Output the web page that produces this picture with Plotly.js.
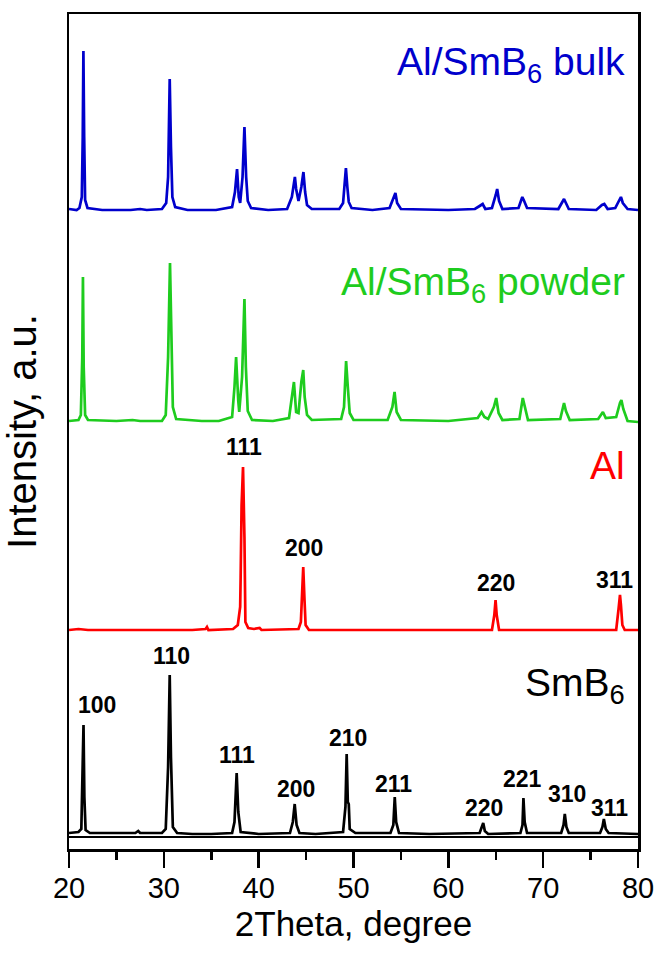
<!DOCTYPE html>
<html>
<head>
<meta charset="utf-8">
<script src="https://cdn.plot.ly/plotly-3.0.1.min.js"></script>
<style>html,body{margin:0;padding:0;background:#fff;}#chart{width:658px;height:966px;}</style>
</head>
<body>
<div id="chart"></div>
<script>
// 2Theta (degree) and intensity (a.u., offset stacked)
const bulkX = [20.0,20.8,21.1,21.35,21.45,21.52,21.6,21.7,21.95,23.5,25.0,26.5,27.5,28.2,29.8,30.25,30.45,30.62,30.75,30.9,31.2,32.5,34.0,35.5,37.2,37.5,37.72,37.9,38.05,38.3,38.5,38.68,38.85,39.2,41.0,43.0,43.5,43.82,43.95,44.2,44.5,44.72,44.9,45.1,45.6,48.5,48.9,49.2,49.35,49.5,49.8,52.0,53.8,54.25,54.42,54.6,55.0,60.0,62.8,63.3,63.62,63.9,64.6,65.0,65.15,65.35,65.7,67.4,67.8,67.95,68.3,71.6,72.2,72.35,72.7,75.6,76.2,76.45,76.8,77.6,78.05,78.2,78.4,78.9,80.0];
const bulkY = [628,627,629,640,700,786,700,637,629,627,627,627,628,627,628,634,660,758,690,640,630,627,627,627,630,645,668,640,634,660,710,660,636,629,627,628,640,660,648,636,650,665,645,632,628,628,634,669,650,635,629,627,629,640,644,634,628,627,628,631,633,628,629,642,648,636,628,629,640,637,629,628,638,635,628,627,632,633,628,629,638,640,634,628,627];

const powderX = [20.0,21.0,21.25,21.4,21.47,21.55,21.7,22.0,25.0,26.7,27.5,29.8,30.2,30.45,30.65,30.8,30.95,31.3,34.0,35.8,37.2,37.45,37.62,37.85,37.95,38.25,38.5,38.65,38.85,39.3,41.5,43.2,43.5,43.72,43.95,44.2,44.5,44.7,44.85,45.1,45.6,48.7,49.0,49.22,49.4,49.6,50.0,53.6,54.1,54.33,54.55,55.0,60.0,63.1,63.5,63.8,64.2,64.8,65.05,65.3,65.7,67.5,67.85,68.05,68.4,71.8,72.2,72.4,72.8,75.8,76.3,76.6,77.7,78.1,78.25,78.45,78.9,80.0];
const powderY = [416,417,422,480,560,470,422,417,416,417,416,416,422,480,574,500,430,418,416,416,420,450,480,436,425,460,538,470,426,417,416,419,440,455,425,424,455,467,440,422,417,418,430,476,450,424,417,417,430,445,425,417,416,419,425,420,418,430,439,424,417,418,439,430,417,418,434,426,417,418,425,419,420,434,437,428,416,415];

const alX = [20.0,21.0,22.0,25.0,30.0,33.0,34.4,34.55,34.7,37.3,37.8,38.05,38.1,38.2,38.35,38.5,38.6,38.9,39.5,40.1,40.3,44.2,44.45,44.6,44.7,44.82,44.95,45.3,50.0,55.0,60.0,64.6,64.85,64.98,65.1,65.35,70.0,75.0,77.7,77.95,78.1,78.2,78.35,78.6,80.0];
const alY = [207,208,207,207,207,207,208,210,207,208,212,230,260,332,370,300,215,209,208,209,207,208,215,250,270,240,212,207,207,207,207,207,222,237,222,207,207,207,207,228,242,232,212,207,207];

const smbX = [20.0,21.0,21.3,21.45,21.53,21.62,21.75,22.2,24.0,27.0,27.3,27.5,29.8,30.2,30.45,30.62,30.75,30.95,31.4,33.0,35.0,37.2,37.45,37.68,37.85,38.1,40.0,43.3,43.6,43.8,44.0,44.3,46.0,48.9,49.15,49.28,49.4,49.5,49.6,50.2,53.9,54.2,54.35,54.5,54.8,58.0,63.3,63.55,63.68,63.85,64.2,67.6,67.82,67.92,68.05,68.3,71.9,72.15,72.28,72.45,72.7,76.0,76.25,76.4,76.6,76.9,80.0];
const smbY = [4,5,8,60,112,40,7,4,4,4,6,4,4,8,70,162,80,10,4,3,3,4,15,64,25,5,3,4,15,33,12,4,3,5,30,83,35,33,8,4,4,12,40,15,4,3,4,10,14,6,3,4,12,39,15,4,4,12,23,10,4,4,10,18,8,4,3];

// Miller index labels
const smbHKL = ["100","110","111","200","210","211","220","221","310","311"];
const smbHKLx = [22.93,30.79,37.75,43.9,49.39,54.25,63.75,67.83,72.47,77.04];
const smbHKLy = [132,181,82,48,99,53,29,58,43,29];
const alHKL = ["111","200","220","311"];
const alHKLx = [38.42,44.75,65.02,77.57];
const alHKLy = [390,289,254,257];

const seriesNames = ["Al/SmB<sub>6</sub> bulk","Al/SmB<sub>6</sub> powder","Al","SmB<sub>6</sub>"];
const seriesColors = ["#0000CC","#1ECC1E","#FF0000","#000000"];
const seriesLabelY = [773,553,372,152];

const FONT = "Liberation Sans, Arial, Helvetica, sans-serif";

const xs = [bulkX, powderX, alX, smbX];
const ys = [bulkY, powderY, alY, smbY];
const traces = xs.map((x, i) => ({
  x: x, y: ys[i], type: 'scatter', mode: 'lines',
  line: {color: seriesColors[i], width: 2.7},
  hoverinfo: 'skip', showlegend: false
}));

const annotations = [];
seriesNames.forEach((t, i) => annotations.push({
  x: 78.85, y: seriesLabelY[i], xref: 'x', yref: 'y', text: t,
  showarrow: false, xanchor: 'right', yanchor: 'middle',
  font: {family: FONT, size: 39, color: seriesColors[i]}
}));
smbHKL.forEach((t, i) => annotations.push({
  x: smbHKLx[i], y: smbHKLy[i], xref: 'x', yref: 'y', text: '<b>' + t + '</b>',
  showarrow: false, xanchor: 'center', yanchor: 'middle',
  font: {family: FONT, size: 23, color: '#000'}
}));
alHKL.forEach((t, i) => annotations.push({
  x: alHKLx[i], y: alHKLy[i], xref: 'x', yref: 'y', text: '<b>' + t + '</b>',
  showarrow: false, xanchor: 'center', yanchor: 'middle',
  font: {family: FONT, size: 23, color: '#000'}
}));

const layout = {
  width: 658, height: 966,
  margin: {l: 69, r: 20, t: 14, b: 117, pad: 0},
  paper_bgcolor: '#fff', plot_bgcolor: '#fff',
  font: {family: FONT, color: '#000'},
  xaxis: {
    range: [20, 80], dtick: 10, tick0: 20,
    ticks: 'outside', ticklen: 16, tickwidth: 2.5, tickcolor: '#000',
    ticklabelstandoff: -4,
    minor: {dtick: 5, ticks: 'outside', ticklen: 8, tickwidth: 2.5, tickcolor: '#000', showgrid: false},
    showline: true, linewidth: 2.5, linecolor: '#000', mirror: true,
    showgrid: false, zeroline: false,
    tickfont: {family: FONT, size: 29, color: '#000'},
    title: {text: '2Theta, degree', font: {family: FONT, size: 35, color: '#000'}, standoff: 2}
  },
  yaxis: {
    range: [-12, 823],
    showticklabels: false, ticks: '',
    showline: true, linewidth: 2.5, linecolor: '#000', mirror: true,
    showgrid: false, zeroline: false,
    title: {text: 'Intensity, a.u.', font: {family: FONT, size: 40, color: '#000'}, standoff: 18}
  },
  shapes: [{type: 'line', xref: 'x', yref: 'y', x0: 20, x1: 80, y0: 0, y1: 0,
            line: {color: '#000', width: 2}}],
  annotations: annotations
};

Plotly.newPlot('chart', traces, layout, {displayModeBar: false, staticPlot: true});
</script>
</body>
</html>
